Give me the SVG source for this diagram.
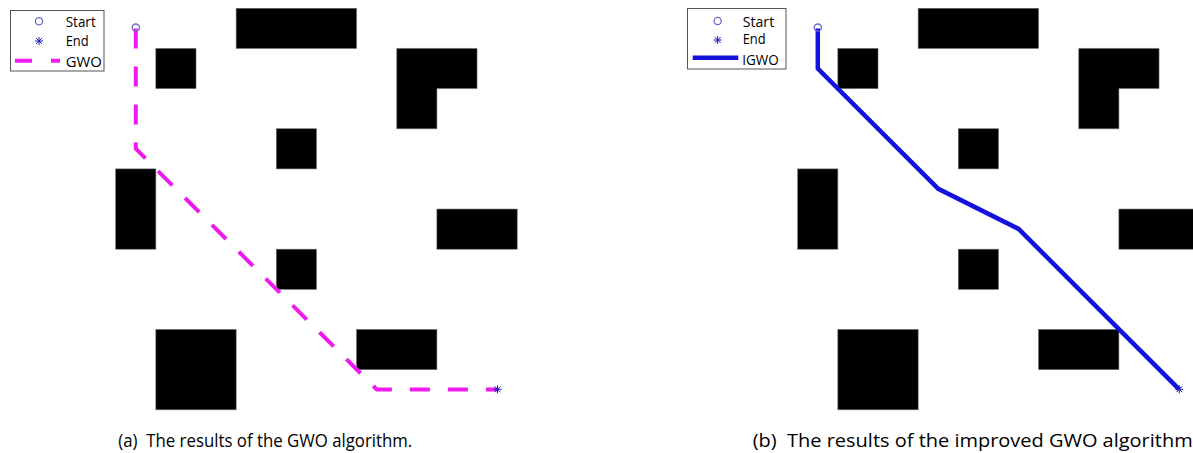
<svg xmlns="http://www.w3.org/2000/svg" xmlns:xlink="http://www.w3.org/1999/xlink" width="1193" height="453" viewBox="0 0 1193 453">
<style>
.obs{fill:#000;stroke:#6a6a6a;stroke-width:0.6}
.lg{fill:#fff;stroke:#555;stroke-width:1}
.lt{font-family:"Open Sans","Noto Sans",sans-serif;font-size:14.5px;fill:#000}
.cap{font-family:"Open Sans","Noto Sans",sans-serif;font-size:18px;fill:#000}
.gwo{fill:none;stroke:#ee1aee;stroke-width:4;stroke-dasharray:20 18;stroke-linejoin:round}
.igwo{fill:none;stroke:#1212dc;stroke-width:4.5;stroke-linejoin:miter}
.start{fill:none;stroke:#6a6acc;stroke-width:1.3}
.endm{fill:none;stroke:#1a1ab4;stroke-width:1}
</style>
<defs>
<g id="star"><path d="M-4,0H4M0,-4V4M-2.9,-2.9L2.9,2.9M-2.9,2.9L2.9,-2.9"/></g>
<g id="map">
<rect class="obs" x="236.15" y="8.3" width="120.45" height="40.15"/>
<rect class="obs" x="155.85" y="48.45" width="40.15" height="40.15"/>
<path class="obs" d="M396.75,48.45H477.05V88.6H436.9V128.75H396.75Z"/>
<rect class="obs" x="276.3" y="128.75" width="40.15" height="40.15"/>
<rect class="obs" x="115.7" y="168.9" width="40.15" height="80.3"/>
<rect class="obs" x="436.9" y="209.05" width="80.3" height="40.15"/>
<rect class="obs" x="276.3" y="249.2" width="40.15" height="40.15"/>
<rect class="obs" x="155.85" y="329.5" width="80.3" height="80.3"/>
<rect class="obs" x="356.6" y="329.5" width="80.3" height="40.15"/>
</g>
</defs>
<rect width="1193" height="453" fill="#fff"/>
<g id="map-a"><use xlink:href="#map" href="#map"/></g>
<g id="map-b"><use xlink:href="#map" href="#map" transform="translate(682,0)"/></g>
<g id="connectors">
<path id="path-gwo" class="gwo" d="M135.8,28.4L135.8,148.7L155.9,168.9L376.7,389.4L497.2,389.4"/>
<path id="path-igwo" class="igwo" d="M817.8,28.4L817.8,68.5L938.3,188.8L1018.6,228.9L1179.2,389.4"/>
</g>
<g id="markers">
<circle class="start" cx="135.8" cy="27.6" r="3.6"/>
<use xlink:href="#star" href="#star" class="endm" transform="translate(497.5,389.3)"/>
<circle class="start" cx="817.8" cy="27.6" r="3.6"/>
<use xlink:href="#star" href="#star" class="endm" transform="translate(1179.3,389.3)"/>
</g>
<g id="legend-a">
<rect class="lg" x="10.5" y="10.5" width="93.5" height="60.5"/>
<circle class="start" cx="39" cy="21.3" r="3.6"/>
<use xlink:href="#star" href="#star" class="endm" transform="translate(39,41)"/>
<path d="M15,60.7H60" stroke="#ee1aee" stroke-width="4" stroke-dasharray="17 19"/>
<text class="lt" x="65.7" y="27" textLength="30" lengthAdjust="spacingAndGlyphs">Start</text>
<text class="lt" x="65.7" y="46" textLength="23" lengthAdjust="spacingAndGlyphs">End</text>
<text class="lt" x="65.7" y="66.5" textLength="36" lengthAdjust="spacingAndGlyphs">GWO</text>
</g>
<g id="legend-b">
<rect class="lg" x="687.5" y="8.5" width="98.5" height="60.5"/>
<circle class="start" cx="717.7" cy="21" r="3.6"/>
<use xlink:href="#star" href="#star" class="endm" transform="translate(717.7,40)"/>
<path d="M692.7,57.7H738.3" stroke="#1212dc" stroke-width="4.5"/>
<text class="lt" x="742.7" y="26.5" textLength="31.5" lengthAdjust="spacingAndGlyphs">Start</text>
<text class="lt" x="742.7" y="44.3" textLength="23" lengthAdjust="spacingAndGlyphs">End</text>
<text class="lt" x="742.3" y="65" textLength="36.5" lengthAdjust="spacingAndGlyphs">IGWO</text>
</g>
<g id="captions">
<text class="cap" x="118.3" y="446.7" textLength="294" lengthAdjust="spacingAndGlyphs" xml:space="preserve">(a)  The results of the GWO algorithm.</text>
<text class="cap" x="752.7" y="446.7" textLength="440" lengthAdjust="spacingAndGlyphs" xml:space="preserve">(b)  The results of the improved GWO algorithm</text>
</g>
</svg>
